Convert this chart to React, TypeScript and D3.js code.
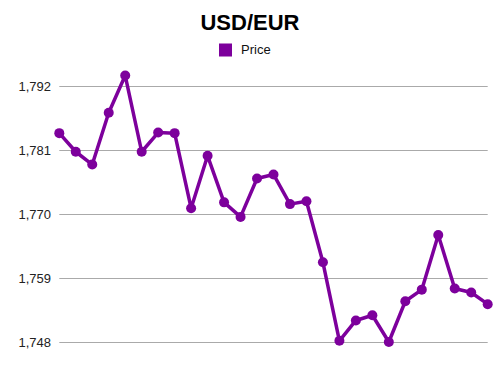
import { useEffect, useRef } from 'react';
import * as d3 from 'd3';

const days = d3.range(1, 28).map(d => `D${d}`);
const prices = [
  1.7839, 1.7807, 1.7785, 1.7874, 1.7938, 1.7807, 1.7840, 1.7839, 1.7710,
  1.7800, 1.7720, 1.7695, 1.7761, 1.7768, 1.7717, 1.7722, 1.7617, 1.7482,
  1.7517, 1.7526, 1.7480, 1.7550, 1.7570, 1.7664, 1.7572, 1.7565, 1.7545,
];
const yTicks = [1.748, 1.759, 1.770, 1.781, 1.792];
const seriesName = 'Price';
const title = 'USD/EUR';

export default function App() {
  const svgRef = useRef<SVGSVGElement>(null);

  useEffect(() => {
    if (!svgRef.current) return;
    const svg = d3.select(svgRef.current);
    svg.selectAll('*').remove();

    const width = 500;
    const height = 375;
    const color = '#7d009c';
    const font = '"Liberation Sans", Arial, Helvetica, sans-serif';

    const x = d3.scalePoint<string>()
      .domain(days)
      .range([59.3, 487.7]);

    const y = d3.scaleLinear()
      .domain([1.748, 1.792])
      .range([342, 86]);

    svg.attr('width', width).attr('height', height);

    // Title
    svg.append('text')
      .attr('x', 250)
      .attr('y', 30)
      .attr('text-anchor', 'middle')
      .attr('font-family', font)
      .attr('font-weight', 'bold')
      .attr('font-size', 22)
      .attr('fill', '#000')
      .text(title);

    // Legend
    svg.append('rect')
      .attr('x', 219)
      .attr('y', 43.5)
      .attr('width', 13)
      .attr('height', 13)
      .attr('fill', color);
    svg.append('text')
      .attr('x', 241)
      .attr('y', 53.5)
      .attr('font-family', font)
      .attr('font-size', 13)
      .attr('fill', '#111')
      .text(seriesName);

    // Grid + y labels
    const grid = svg.append('g');
    grid.selectAll('line')
      .data(yTicks)
      .enter()
      .append('line')
      .attr('x1', x.range()[0])
      .attr('x2', x.range()[1])
      .attr('y1', d => Math.round(y(d)) + 0.5)
      .attr('y2', d => Math.round(y(d)) + 0.5)
      .attr('stroke', '#aaaaaa')
      .attr('stroke-width', 1);

    grid.selectAll('text')
      .data(yTicks)
      .enter()
      .append('text')
      .attr('x', 51)
      .attr('y', d => y(d) + 4.5)
      .attr('text-anchor', 'end')
      .attr('font-family', font)
      .attr('font-size', 13)
      .attr('fill', '#222')
      .text(d => d3.format('.3f')(d).replace('.', ','));

    // Line
    const line = d3.line<number>()
      .x((_, i) => x(days[i]) || 0)
      .y(d => y(d));

    svg.append('path')
      .datum(prices)
      .attr('d', line)
      .attr('fill', 'none')
      .attr('stroke', color)
      .attr('stroke-width', 3.5)
      .attr('stroke-linejoin', 'round');

    // Points
    svg.append('g')
      .selectAll('circle')
      .data(prices)
      .enter()
      .append('circle')
      .attr('cx', (_, i) => x(days[i]) || 0)
      .attr('cy', d => y(d))
      .attr('r', 5)
      .attr('fill', color);
  }, []);

  return <svg ref={svgRef} style={{ position: 'absolute', left: 0, top: 0 }}></svg>;
}
